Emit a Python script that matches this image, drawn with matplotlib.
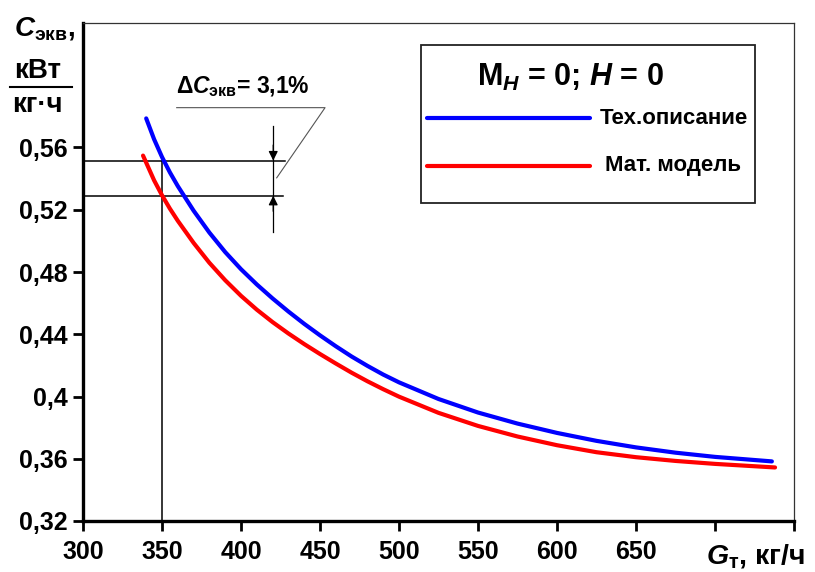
import matplotlib
matplotlib.use('Agg')
import matplotlib.pyplot as plt
from matplotlib.patches import Rectangle
from matplotlib.lines import Line2D

plt.rcParams['font.family'] = ['Liberation Sans', 'DejaVu Sans']
plt.rcParams['font.weight'] = 'bold'
plt.rcParams['mathtext.fontset'] = 'custom'
plt.rcParams['mathtext.rm'] = 'Liberation Sans:bold'
plt.rcParams['mathtext.it'] = 'Liberation Sans:bold:italic'
plt.rcParams['mathtext.bf'] = 'Liberation Sans:bold'
plt.rcParams['mathtext.sf'] = 'Liberation Sans'

# ---- data ----
g_tech = [340, 345, 350, 355, 360, 370, 380, 390, 400, 410, 420, 430, 440,
          450, 460, 470, 480, 490, 500, 525, 550, 575, 600, 625, 650, 675,
          700, 736]
c_tech = [0.5787, 0.5653, 0.5539, 0.5440, 0.5352, 0.5194, 0.5053, 0.4928,
          0.4818, 0.4720, 0.4630, 0.4546, 0.4467, 0.4393, 0.4323, 0.4257,
          0.4197, 0.4141, 0.4091, 0.3984, 0.3897, 0.3826, 0.3766, 0.3715,
          0.3673, 0.3639, 0.3612, 0.3583]

g_model = [338, 345, 350, 355, 360, 370, 380, 390, 400, 410, 420, 430, 440,
           450, 460, 470, 480, 490, 500, 525, 550, 575, 600, 625, 650, 675,
           700, 738]
c_model = [0.5548, 0.5389, 0.5293, 0.5207, 0.5129, 0.4987, 0.4859, 0.4747,
           0.4647, 0.4558, 0.4478, 0.4405, 0.4337, 0.4273, 0.4212, 0.4153,
           0.4098, 0.4047, 0.3999, 0.3895, 0.3811, 0.3743, 0.3687, 0.3642,
           0.3610, 0.3586, 0.3567, 0.3544]

x_ticks = [300, 350, 400, 450, 500, 550, 600, 650, 700, 750]
x_labels = ['300', '350', '400', '450', '500', '550', '600', '650', '', '']
y_ticks = [0.32, 0.36, 0.40, 0.44, 0.48, 0.52, 0.56]
y_labels = ['0,32', '0,36', '0,4', '0,44', '0,48', '0,52', '0,56']

g_ref = 350
c_ref_tech = 0.5516
c_ref_model = 0.529
dim_x = 420.4

series_names = ['Тех.описание', 'Мат. модель']
series_colors = ['#0000ff', '#ff0000']

# ---- figure ----
W, H = 815, 572
fig = plt.figure(figsize=(W / 100, H / 100), dpi=100)
ax = fig.add_axes([83 / W, 1 - 521 / H, (794 - 83) / W, (521 - 23) / H])

ax.plot(g_tech, c_tech, color=series_colors[0], lw=3.0, solid_capstyle='round',
        solid_joinstyle='round', zorder=3)
ax.plot(g_model, c_model, color=series_colors[1], lw=3.0, solid_capstyle='round',
        solid_joinstyle='round', zorder=3)

ax.set_xlim(300, 750)
ax.set_ylim(0.32, 0.64)
ax.set_xticks(x_ticks)
ax.set_xticklabels(x_labels)
ax.set_yticks(y_ticks)
ax.set_yticklabels(y_labels)
ax.tick_params(axis='both', direction='out', length=7, width=2.0, labelsize=18)
ax.tick_params(axis='x', pad=7)
ax.tick_params(axis='y', pad=4)
for lab in ax.get_xticklabels() + ax.get_yticklabels():
    lab.set_fontweight('bold')

ax.spines['left'].set_linewidth(2.4)
ax.spines['bottom'].set_linewidth(2.4)
ax.spines['top'].set_linewidth(0.9)
ax.spines['right'].set_linewidth(0.9)
ax.spines['top'].set_color('#333333')
ax.spines['right'].set_color('#333333')

# reference lines
ax.plot([300, 427.8], [c_ref_tech, c_ref_tech], color='black', lw=1.1, zorder=2)
ax.plot([300, 426.6], [c_ref_model, c_ref_model], color='black', lw=1.1, zorder=2)
ax.plot([g_ref, g_ref], [0.32, c_ref_tech], color='black', lw=1.1, zorder=2)
# dimension line
ax.plot([dim_x, dim_x], [0.5737, 0.506], color='black', lw=0.9, zorder=2)
arr = dict(arrowstyle='-|>,head_length=0.5,head_width=0.25', color='black',
           lw=0.9, mutation_scale=11, shrinkA=0, shrinkB=0)
ax.annotate('', xy=(dim_x, c_ref_tech), xytext=(dim_x, c_ref_tech + 0.01), arrowprops=arr)
ax.annotate('', xy=(dim_x, c_ref_model), xytext=(dim_x, c_ref_model - 0.01), arrowprops=arr)
# leader
ax.plot([422.6, 453.2, 359.3], [0.5405, 0.5856, 0.5856], color='#555555', lw=0.8,
        zorder=2, clip_on=False)
ax.text(358.6, 0.5950, r'$\mathsf{\Delta}\mathit{C}_{\mathrm{экв}}$= 3,1%',
        fontsize=16.5, fontweight='bold', ha='left', va='baseline')

# legend box (manual)
fig.patches.append(Rectangle((420.7 / W, 1 - 203.3 / H), (755 - 420.7) / W,
                             (203.3 - 45) / H, transform=fig.transFigure,
                             fill=False, edgecolor='#222222', lw=1.3))
fig.text(570 / W, 1 - 77 / H, r'M$_{\mathit{H}}$ = 0; $\mathit{H}$ = 0', fontsize=22,
         fontweight='bold', ha='center', va='center')
for name, col, yy, xt in zip(series_names, series_colors, [118.3, 166], [600, 605]):
    fig.lines.append(Line2D([426.7 / W, 590 / W], [1 - yy / H, 1 - yy / H],
                            transform=fig.transFigure, color=col, lw=3.0,
                            solid_capstyle='round'))
    fig.text(xt / W, 1 - yy / H, name, fontsize=16, fontweight='bold',
             ha='left', va='center')

# y-axis label
fig.text(14 / W, 1 - 36 / H, r'$\mathit{C}_{\mathrm{экв}}$,', fontsize=20,
         fontweight='bold', ha='left', va='baseline')
fig.text(38 / W, 1 - 78 / H, 'кВт', fontsize=20, fontweight='bold',
         ha='center', va='baseline')
fig.lines.append(Line2D([10 / W, 72 / W], [1 - 87 / H, 1 - 87 / H],
                        transform=fig.transFigure, color='black', lw=1.5))
fig.text(37 / W, 1 - 112 / H, 'кг·ч', fontsize=20, fontweight='bold',
         ha='center', va='baseline')

# x-axis label
fig.text(706 / W, 1 - 563 / H, r'$\mathit{G}_{\mathrm{т}}$, кг/ч', fontsize=20.5,
         fontweight='bold', ha='left', va='baseline')

fig.savefig('out.png', dpi=100)
